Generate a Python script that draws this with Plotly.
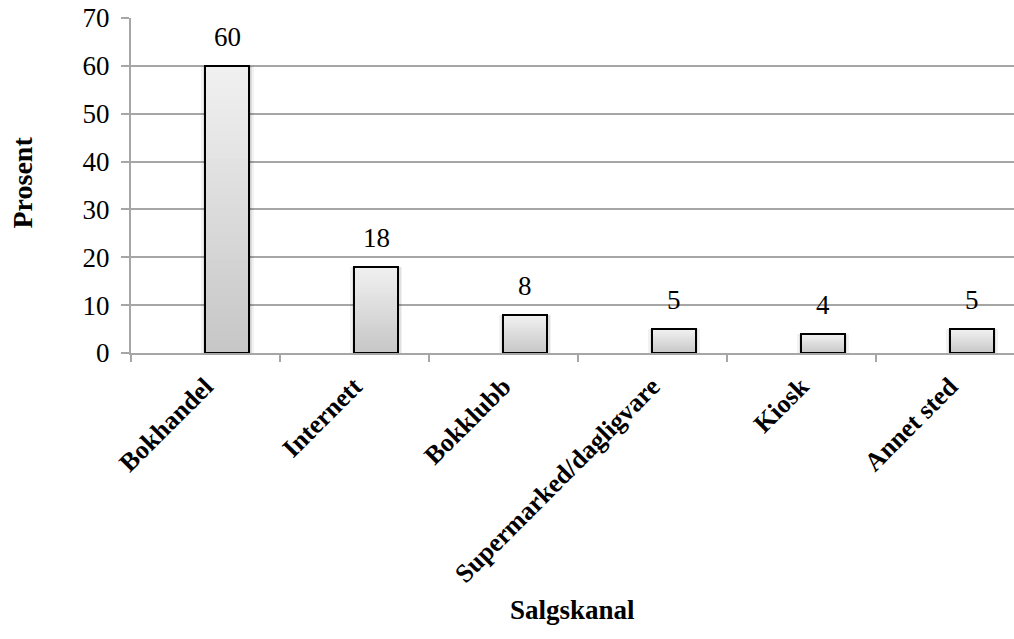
import plotly.graph_objects as go

# Salgskanal for bøker (prosent)
categories = ["Bokhandel", "Internett", "Bokklubb", "Supermarked/dagligvare", "Kiosk", "Annet sted"]
values = [60, 18, 8, 5, 4, 5]
y_ticks = [0, 10, 20, 30, 40, 50, 60, 70]

FONT = "Liberation Serif, 'Times New Roman', serif"
GRID = "#a6a6a6"
BAR_W = 0.295      # bar width in category units
BAR_OFF = 0.0      # bar starts at category centre
N_STEPS = 40       # slices used to build the vertical gradient

top_rgb = (241, 241, 241)
bot_rgb = (198, 198, 198)


def mix(t):
    r, g, b = (round(bot_rgb[i] + (top_rgb[i] - bot_rgb[i]) * t) for i in range(3))
    return f"rgb({r},{g},{b})"


fig = go.Figure()

# soft drop shadow behind each bar
for pad, alpha in [(0.028, 0.05), (0.016, 0.07), (0.008, 0.08)]:
    fig.add_trace(go.Bar(
        x=categories, y=values,
        width=BAR_W + 2 * pad, offset=BAR_OFF - pad,
        marker=dict(color=f"rgba(0,0,0,{alpha})", line=dict(width=0)),
        hoverinfo="skip", showlegend=False,
    ))

# gradient fill: each bar split into slices, light at the top, darker at the bottom
for k in range(N_STEPS):
    t = (k + 0.5) / N_STEPS
    fig.add_trace(go.Bar(
        x=categories,
        y=[v / N_STEPS for v in values],
        base=[v * k / N_STEPS for v in values],
        width=BAR_W, offset=BAR_OFF,
        marker=dict(color=mix(t), line=dict(width=0)),
        hoverinfo="skip", showlegend=False,
    ))

# black outline on top
fig.add_trace(go.Bar(
    x=categories, y=values,
    width=BAR_W, offset=BAR_OFF,
    marker=dict(color="rgba(0,0,0,0)", line=dict(color="#000000", width=2)),
    showlegend=False,
))

# value labels above the bars
for i, v in enumerate(values):
    fig.add_annotation(
        x=i + BAR_OFF + BAR_W / 2, y=v, xref="x", yref="y",
        text=str(v), showarrow=False, yanchor="bottom", yshift=12,
        font=dict(family=FONT, size=27, color="#000000"),
    )

# axis titles
fig.add_annotation(
    x=0.5, y=0, xref="paper", yref="paper", yanchor="middle",
    yshift=-257,
    text="<b>Salgskanal</b>", showarrow=False,
    font=dict(family=FONT, size=27, color="#000000"),
)
fig.add_annotation(
    x=0, y=0.5, xref="paper", yref="paper", xanchor="center",
    xshift=-109, yshift=3, textangle=-90,
    text="<b>Prosent</b>", showarrow=False,
    font=dict(family=FONT, size=28, color="#000000"),
)

fig.update_layout(
    width=1014, height=639,
    margin=dict(l=131, r=0, t=18, b=286),
    paper_bgcolor="white", plot_bgcolor="white",
    barmode="overlay", bargap=0,
    showlegend=False,
    font=dict(family=FONT, color="#000000"),
)

fig.update_xaxes(
    type="category", range=[-0.5, 5.43],
    tickson="boundaries", ticks="outside", ticklen=7, tickcolor=GRID, tickwidth=2,
    showline=True, linecolor=GRID, linewidth=2,
    showgrid=False, tickangle=-45,
    tickfont=dict(family=FONT, size=26, color="#000000"),
    ticklabelstandoff=6,
    tickvals=categories,
    ticktext=[f"<b>{c}</b>" for c in categories],
)
fig.update_yaxes(
    range=[0, 70], tickvals=y_ticks, ticktext=[str(t) for t in y_ticks],
    ticks="outside", ticklen=8, tickcolor=GRID, tickwidth=2,
    showline=True, linecolor=GRID, linewidth=2,
    showgrid=True, gridcolor=GRID, gridwidth=2, zeroline=False,
    tickfont=dict(family=FONT, size=27, color="#000000"),
    ticklabelstandoff=6,
)

fig.write_html("out.html")
